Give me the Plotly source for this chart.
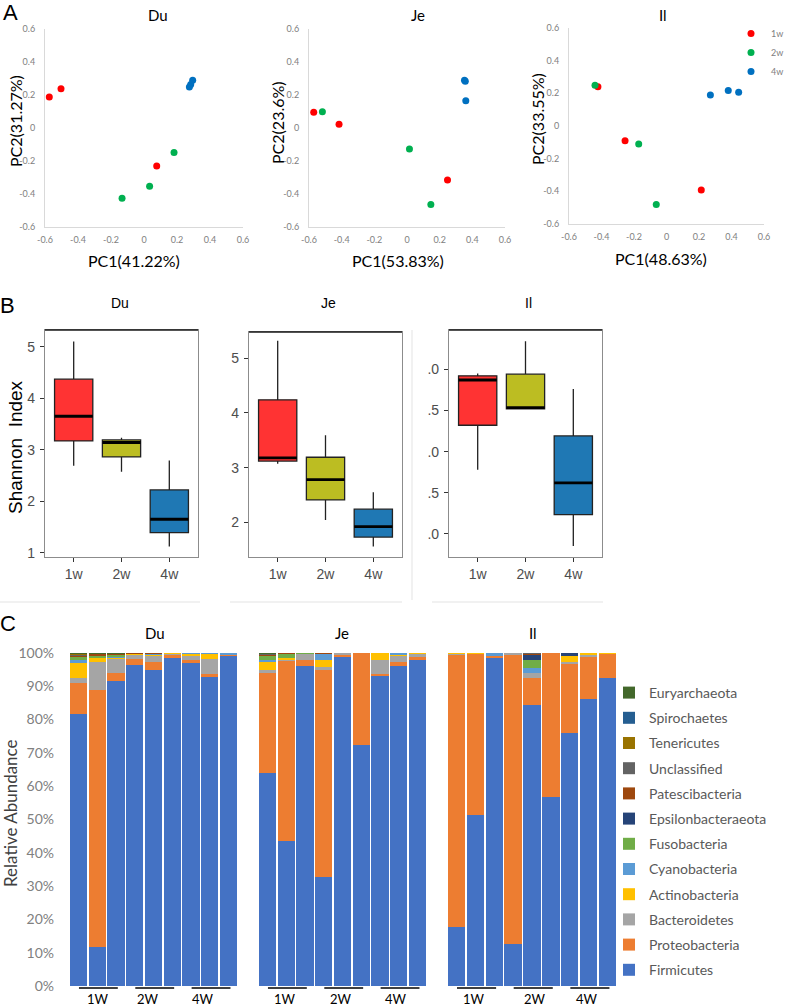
import plotly.graph_objects as go

W, H = 789, 1008

# ---------------- Panel A: PCA ----------------
pca_week = ["1w", "1w", "1w", "2w", "2w", "2w", "4w", "4w", "4w"]
du_pc1 = [-0.574, -0.503, 0.077, 0.182, 0.034, -0.133, 0.295, 0.283, 0.275]
du_pc2 = [0.188, 0.238, -0.230, -0.149, -0.353, -0.426, 0.289, 0.264, 0.248]
je_pc1 = [-0.571, -0.416, 0.248, -0.518, 0.015, 0.146, 0.352, 0.357, 0.360]
je_pc2 = [0.096, 0.023, -0.315, 0.098, -0.127, -0.463, 0.290, 0.283, 0.165]
il_pc1 = [-0.422, -0.255, 0.214, -0.440, -0.171, -0.063, 0.270, 0.380, 0.444]
il_pc2 = [0.241, -0.090, -0.392, 0.249, -0.110, -0.480, 0.190, 0.218, 0.206]
pca_ticks = [-0.6, -0.4, -0.2, 0, 0.2, 0.4, 0.6]
pca_ticktext = ["-0.6", "-0.4", "-0.2", "0", "0.2", "0.4", "0.6"]

# ---------------- Panel B: Shannon index (box stats) ----------------
weeks = ["1w", "2w", "4w"]
shannon_low = {"Du": [2.69, 2.57, 1.12], "Je": [3.07, 2.04, 1.555], "Il": [1.78, 2.51, 0.855]}
shannon_q1 = {"Du": [3.17, 2.86, 1.39], "Je": [3.12, 2.41, 1.73], "Il": [2.32, 2.52, 1.235]}
shannon_med = {"Du": [3.65, 3.14, 1.65], "Je": [3.18, 2.78, 1.92], "Il": [2.87, 2.535, 1.62]}
shannon_q3 = {"Du": [4.37, 3.19, 2.22], "Je": [4.24, 3.19, 2.24], "Il": [2.92, 2.94, 2.19]}
shannon_high = {"Du": [5.10, 3.23, 2.79], "Je": [5.32, 3.59, 2.55], "Il": [2.95, 3.34, 2.76]}

# ---------------- Panel C: relative abundance ----------------
phyla = ["Firmicutes", "Proteobacteria", "Bacteroidetes", "Actinobacteria", "Cyanobacteria",
         "Fusobacteria", "Epsilonbacteraeota", "Patescibacteria", "Unclassified",
         "Tenericutes", "Spirochaetes", "Euryarchaeota"]
phyla_colors = ["#4472C4", "#ED7D31", "#A5A5A5", "#FFC000", "#5B9BD5", "#70AD47",
                "#264478", "#9E480E", "#636363", "#997300", "#255E91", "#43682B"]
group_labels = ["1W", "2W", "4W"]
Z = [0] * 9
du_abund = {
    "Firmicutes": [81.5, 11.8, 91.4, 96.4, 94.8, 98.3, 97.0, 92.8, 99.3],
    "Proteobacteria": [9.4, 77.0, 2.4, 1.8, 2.3, 1.2, 0.8, 0.7, 0.3],
    "Bacteroidetes": [1.6, 8.5, 4.6, 1.4, 2.0, 0.2, 1.3, 4.5, 0.0],
    "Actinobacteria": [4.7, 1.0, 0.2, 0.2, 0.4, 0.3, 0.7, 1.8, 0.0],
    "Cyanobacteria": [0.5, 0.0, 0.3, 0.0, 0.2, 0.0, 0.2, 0.2, 0.4],
    "Fusobacteria": [1.0, 1.0, 0.5, 0, 0, 0, 0, 0, 0],
    "Epsilonbacteraeota": Z,
    "Patescibacteria": [0.6, 0.5, 0.4, 0.2, 0.3, 0, 0, 0, 0],
    "Unclassified": [0.3, 0, 0, 0, 0, 0, 0, 0, 0],
    "Tenericutes": [0.2, 0, 0, 0, 0, 0, 0, 0, 0],
    "Spirochaetes": Z,
    "Euryarchaeota": [0.2, 0.2, 0.2, 0, 0, 0, 0, 0, 0],
}
je_abund = {
    "Firmicutes": [63.8, 43.5, 96.1, 32.8, 98.7, 72.4, 93.1, 96.1, 97.8],
    "Proteobacteria": [30.2, 54.1, 1.7, 62.3, 0.9, 27.6, 0.5, 1.2, 1.0],
    "Bacteroidetes": [0.8, 0.2, 1.9, 0.5, 0.4, 0, 4.2, 1.8, 1.0],
    "Actinobacteria": [2.7, 0.7, 0, 2.2, 0, 0, 2.2, 0.3, 0.2],
    "Cyanobacteria": [0.2, 0, 0, 2.0, 0, 0, 0, 0.6, 0],
    "Fusobacteria": [1.3, 1.2, 0.3, 0, 0, 0, 0, 0, 0],
    "Epsilonbacteraeota": Z,
    "Patescibacteria": [0.6, 0.3, 0, 0.2, 0, 0, 0, 0, 0],
    "Unclassified": [0.2, 0, 0, 0, 0, 0, 0, 0, 0],
    "Tenericutes": Z,
    "Spirochaetes": Z,
    "Euryarchaeota": [0.2, 0, 0, 0, 0, 0, 0, 0, 0],
}
il_abund = {
    "Firmicutes": [17.6, 51.4, 98.3, 12.6, 84.3, 56.6, 75.8, 86.0, 92.5],
    "Proteobacteria": [81.9, 48.4, 0.7, 86.9, 8.2, 43.4, 21.0, 13.0, 7.2],
    "Bacteroidetes": [0.2, 0, 0, 0.5, 1.5, 0, 0.3, 0.2, 0],
    "Actinobacteria": [0.3, 0.2, 0, 0, 0, 0, 2.0, 0.8, 0.3],
    "Cyanobacteria": [0, 0, 1.0, 0, 1.5, 0, 0, 0, 0],
    "Fusobacteria": [0, 0, 0, 0, 2.2, 0, 0, 0, 0],
    "Epsilonbacteraeota": [0, 0, 0, 0, 1.9, 0, 0.9, 0, 0],
    "Patescibacteria": [0, 0, 0, 0, 0.2, 0, 0, 0, 0],
    "Unclassified": [0, 0, 0, 0, 0.2, 0, 0, 0, 0],
    "Tenericutes": Z,
    "Spirochaetes": Z,
    "Euryarchaeota": Z,
}

week_colors = {"1w": "#FF0000", "2w": "#00B050", "4w": "#0070C0"}
box_colors = ["#FF3333", "#BCBD22", "#1F78B4"]
EXCEL_FONT = "Lato"
R_FONT = "Liberation Sans"


def xd(a, b):
    return [a / W, b / W]


def yd(top, bottom):
    return [1 - bottom / H, 1 - top / H]


def px(x, y):
    return x / W, 1 - y / H


fig = go.Figure()
annotations = []
shapes = []


def note(text, x, y, size, font=EXCEL_FONT, color="black", angle=0):
    ax, ay = px(x, y)
    annotations.append(dict(text=text, x=ax, y=ay, xref="paper", yref="paper",
                            showarrow=False, textangle=angle, xanchor="center", yanchor="middle",
                            font=dict(family=font, size=size, color=color)))


# ---- Panel A ----
pca_sets = [("Du", du_pc1, du_pc2, "", (45, 243), (29, 227)),
            ("Je", je_pc1, je_pc2, "2", (309, 505), (29, 227)),
            ("Il", il_pc1, il_pc2, "3", (569, 764), (28, 224))]
for region, pc1, pc2, ax, xdom, ydom in pca_sets:
    for wk in weeks:
        idx = [i for i, w in enumerate(pca_week) if w == wk]
        fig.add_trace(go.Scatter(
            x=[pc1[i] for i in idx], y=[pc2[i] for i in idx], mode="markers",
            marker=dict(size=7, color=week_colors[wk]), name=wk,
            xaxis="x" + ax, yaxis="y" + ax, legend="legend2",
            showlegend=(region == "Il")))
    common = dict(range=[-0.6, 0.6], tickvals=pca_ticks, ticktext=pca_ticktext,
                  showgrid=False, zeroline=False, showline=True, linecolor="#D9D9D9",
                  ticks="", automargin=False,
                  tickfont=dict(family=EXCEL_FONT, size=9, color="#808080"))
    fig.update_layout(**{
        "xaxis" + ax: dict(domain=xd(*xdom), anchor="y" + ax, ticklabelstandoff=4, **common),
        "yaxis" + ax: dict(domain=yd(*ydom), anchor="x" + ax, ticklabelstandoff=7, **common),
    })

note("Du", 158, 15, 15)
note("Je", 418, 15, 15)
note("Il", 663, 15, 15)
note("PC1(41.22%)", 134, 260, 16)
note("PC1(53.83%)", 398, 260, 16)
note("PC1(48.63%)", 661, 258, 16)
note("PC2(31.27%)", 15, 121, 16, angle=-90)
note("PC2(23.6%)", 277, 123, 16, angle=-90)
note("PC2(33.55%)", 537, 119, 16, angle=-90)

# ---- Panel B ----
box_sets = [("Du", "4", (45, 198), (330, 557), [0.917, 5.324], [1, 2, 3, 4, 5], ["1", "2", "3", "4", "5"]),
            ("Je", "5", (249, 402), (332, 557), [1.365, 5.481], [2, 3, 4, 5], ["2", "3", "4", "5"]),
            ("Il", "6", (449, 602), (330, 557), [0.72, 3.477], [1, 1.5, 2, 2.5, 3], [".0", ".5", ".0", ".5", ".0"])]
for region, ax, xdom, ydom, yr, tv, tt in box_sets:
    for i, wk in enumerate(weeks):
        fig.add_trace(go.Box(
            x=[i + 1], q1=[shannon_q1[region][i]], median=[shannon_med[region][i]],
            q3=[shannon_q3[region][i]], lowerfence=[shannon_low[region][i]],
            upperfence=[shannon_high[region][i]], width=0.8, whiskerwidth=0,
            fillcolor=box_colors[i], line=dict(color="#222222", width=1.3),
            boxpoints=False, hoverinfo="skip", showlegend=False,
            xaxis="x" + ax, yaxis="y" + ax))
        fig.add_trace(go.Scatter(
            x=[i + 0.6, i + 1.4], y=[shannon_med[region][i]] * 2, mode="lines",
            line=dict(color="black", width=2.8), showlegend=False, hoverinfo="skip",
            xaxis="x" + ax, yaxis="y" + ax))
    fig.update_layout(**{
        "xaxis" + ax: dict(domain=xd(*xdom), anchor="y" + ax, range=[0.4, 3.6],
                           tickvals=[1, 2, 3], ticktext=weeks, ticks="outside", ticklen=4,
                           tickcolor="#333333", showline=True, mirror=True, linecolor="#8C8C8C",
                           linewidth=1.2, showgrid=False, zeroline=False, automargin=False,
                           tickfont=dict(family=R_FONT, size=14, color="#4D4D4D")),
        "yaxis" + ax: dict(domain=yd(*ydom), anchor="x" + ax, range=yr, tickvals=tv, ticktext=tt,
                           ticks="outside", ticklen=4, tickcolor="#333333", showline=True,
                           mirror=True, linecolor="#8C8C8C", linewidth=1.2, showgrid=False,
                           zeroline=False, ticklabelstandoff=2, automargin=False,
                           tickfont=dict(family=R_FONT, size=14, color="#4D4D4D")),
    })
    x0, y0 = px(xdom[0], ydom[0])
    x1, _ = px(xdom[1], ydom[0])
    shapes.append(dict(type="line", xref="paper", yref="paper", x0=x0, x1=x1, y0=y0, y1=y0,
                       line=dict(color="#1A1A1A", width=1.6)))

note("Du", 120, 303, 14, font=R_FONT)
note("Je", 328, 303, 14, font=R_FONT)
note("Il", 528, 303, 14, font=R_FONT)
note("Shannon  Index", 15, 447, 19, font=R_FONT, angle=-90)

# faint composite separator lines
for xa, xb, ya, yb in [(0, 200, 602, 602), (230, 402, 602, 602), (432, 603, 602, 602), (412, 412, 330, 600)]:
    a0, b0 = px(xa, ya)
    a1, b1 = px(xb, yb)
    shapes.append(dict(type="line", xref="paper", yref="paper", x0=a0, x1=a1, y0=b0, y1=b1,
                       line=dict(color="#E3E3E3", width=1)))

# ---- Panel C ----
bar_sets = [("Du", du_abund, "7", (69, 238)),
            ("Je", je_abund, "8", (258, 427)),
            ("Il", il_abund, "9", (447, 617))]
samples = list(range(9))
for region, abund, ax, xdom in bar_sets:
    for k, (name, color) in enumerate(zip(phyla, phyla_colors)):
        fig.add_trace(go.Bar(
            x=samples, y=abund[name], name=name, marker=dict(color=color, line=dict(width=0)),
            legendgroup=name, legendrank=100 - k, showlegend=(region == "Du"),
            xaxis="x" + ax, yaxis="y" + ax))
    ydict = dict(domain=yd(652.7, 986), anchor="x" + ax, range=[0, 100], showgrid=False,
                 zeroline=False, showline=False, ticks="", automargin=False)
    if region == "Du":
        ydict.update(tickvals=list(range(0, 101, 10)),
                     ticktext=[f"{v}%" for v in range(0, 101, 10)], ticklabelstandoff=14,
                     tickfont=dict(family=EXCEL_FONT, size=14, color="#808080"))
    else:
        ydict.update(showticklabels=False)
    fig.update_layout(**{
        "xaxis" + ax: dict(domain=xd(*xdom), anchor="y" + ax, range=[-0.5, 8.5], automargin=False,
                           showticklabels=False, showgrid=False, zeroline=False, ticks=""),
        "yaxis" + ax: ydict,
    })
    for g in range(3):
        shapes.append(dict(type="line", xref="x" + ax, yref="paper", x0=3 * g + 0.03, x1=3 * g + 2.1,
                           y0=1 - 988 / H, y1=1 - 988 / H, line=dict(color="black", width=1.5)))

note("Du", 155, 633, 15)
note("Je", 342, 633, 15)
note("Il", 533, 633, 15)
note("Relative Abundance", 10, 813, 17, color="#404040", angle=-90)
for xs in [(98, 148, 203), (285, 341, 396), (474, 535, 587)]:
    for x, lab in zip(xs, group_labels):
        note(lab, x, 999, 13)

note("A", 10, 13, 22, font=R_FONT)
note("B", 8, 305, 22, font=R_FONT)
note("C", 8, 623, 22, font=R_FONT)

lx, ly = px(609, 677)
l2x, l2y = px(789, 19)
fig.update_layout(
    width=W, height=H, margin=dict(l=0, r=0, t=0, b=0, autoexpand=False),
    paper_bgcolor="white", plot_bgcolor="white",
    barmode="stack", bargap=0.08,
    annotations=annotations, shapes=shapes,
    legend=dict(x=lx, y=ly, xanchor="left", yanchor="top", traceorder="grouped",
                tracegroupgap=4, bgcolor="rgba(0,0,0,0)",
                font=dict(family=EXCEL_FONT, size=14, color="#595959")),
    legend2=dict(x=l2x, y=l2y, xanchor="right", yanchor="top", tracegroupgap=0,
                 bgcolor="rgba(0,0,0,0)", font=dict(family=EXCEL_FONT, size=9, color="#808080")),
)

fig.write_html("out.html", config={"displayModeBar": False},
               post_script="document.body.style.margin='0';")
